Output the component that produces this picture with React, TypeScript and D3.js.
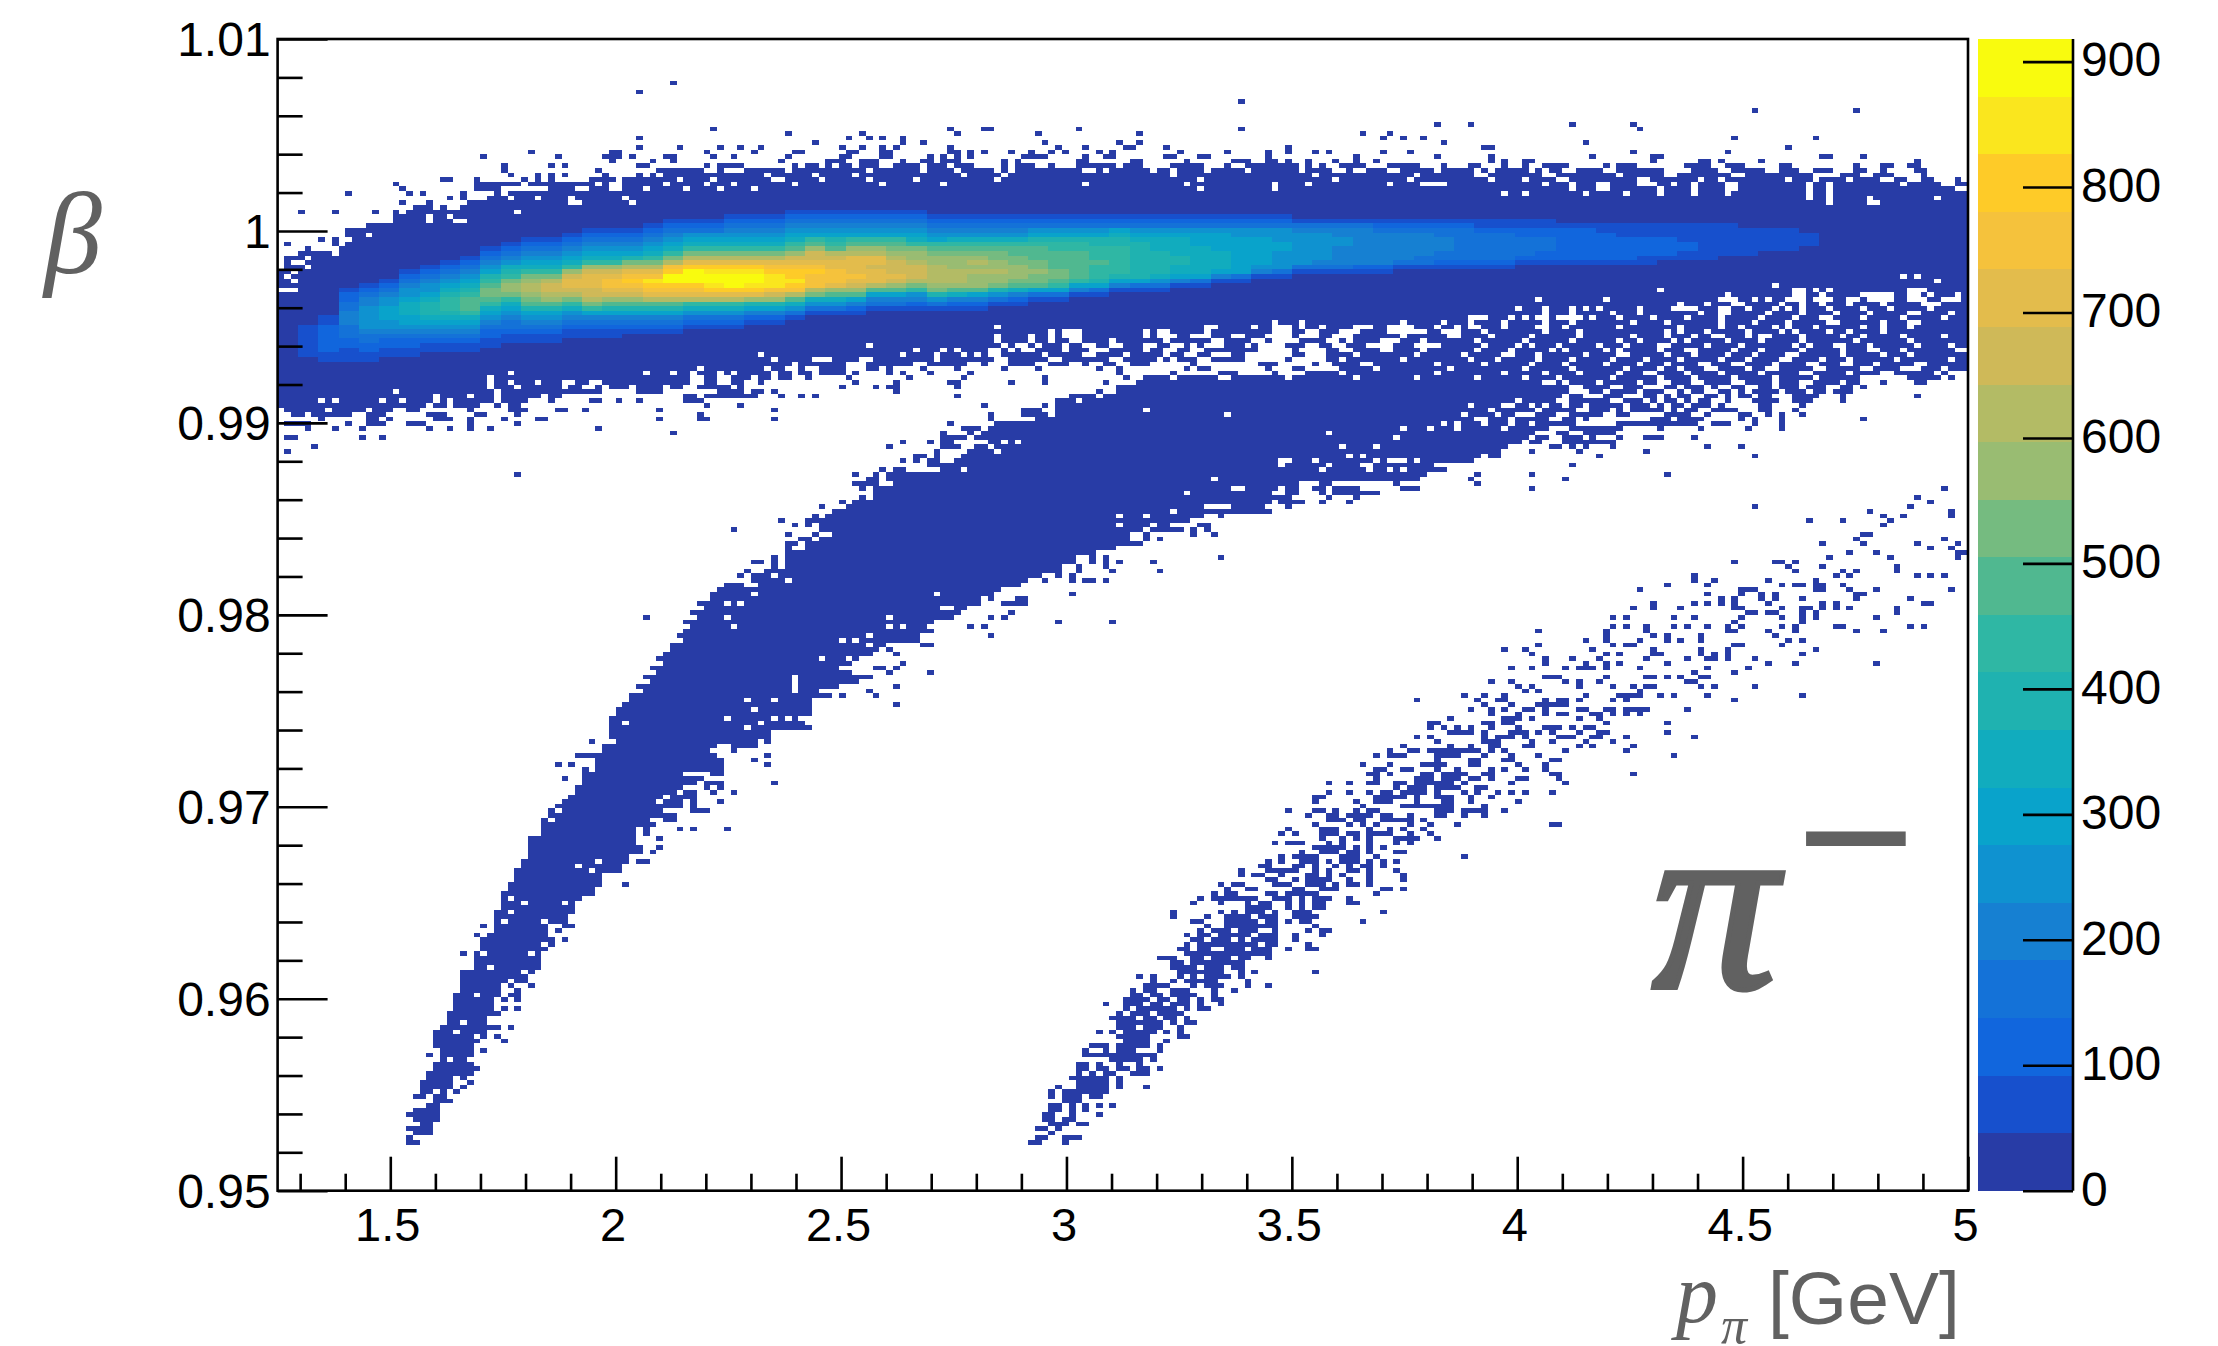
import * as d3 from 'd3'
import { useEffect, useRef } from 'react'

const xMajorTicks = [1.5, 2, 2.5, 3, 3.5, 4, 4.5, 5]
const xTickLabels = ['1.5', '2', '2.5', '3', '3.5', '4', '4.5', '5']
const yMajorTicks = [0.95, 0.96, 0.97, 0.98, 0.99, 1, 1.01]
const yTickLabels = ['0.95', '0.96', '0.97', '0.98', '0.99', '1', '1.01']
const zTicks = [0, 100, 200, 300, 400, 500, 600, 700, 800, 900]

// palette, bottom to top
const levelColors = [
  '#283ca6', '#1750cd', '#1166dd', '#1472d8', '#1680d2', '#0f92d0', '#09a3cb',
  '#11acbe', '#1fb2b0', '#2fb7a4', '#50b890', '#75bb80', '#99bc72', '#b3bb65',
  '#cfb958', '#e3bc4c', '#f5c23c', '#fecb28', '#fae61e', '#f9fb0e',
]
const zMax = 918
const binCount = 250

// occupied bins, "row: columns"
const topBandRows = [
  '240: 58', '238: 53', '236: 142', '234: 218 233', '231: 171 176 191 200',
  '230: 64 99 104-105 118 142 201',
  '229: 75 86 100 112 127 160 164',
  '228: 53 84 87 89 92 163 166 169 215 227',
  '227: 79 92 95 113 124 127 172 193',
  '226: 53 59 65 68 71 83 86 89 91 99 115 119 125-126 131 149 178-179 223',
  '225: 37 49-50 63 70 76-77 84-85 89-90 99-100 102 104 108 111 114 116 121 123 133 140 146 149 153 155 163 167 200 214',
  '224: 30 41 48-50 52 57-58 64 67 75 83-84 89-90 96 98 100 102 110-113 119 122-123 131-132 136-137 146 159 171 179 194 203-204 228-229 234',
  '223: 49 55 58 74 81-83 86-88 92 95-96 98-100 107 109 118-119 126-127 134 141-143 146-147 149 152 156 159 162 179 181 184-185 203 210-211 213 219 242',
  '222: 33 40 42 53-54 63 65-68 76 78-79 81 83-84 86-88 91-94 96-98 100-102 107 109-111 114 118-123 125-127 132-136 140 143-150 152 154 157-160 164-168 172 176-177 181 184 187-190 196 198-200 208-211 214-216 222-223 233 237-238 241-242',
  '221: 33 47 56-62 65 69-74 76-86 88-94 96-99 101-105 107 109-118 121 123-128 130-131 133-136 138-142 144-150 152-155 158 161-163 166-170 172-176 178 180-184 186 188-189 192-195 198-204 209-212 215-219 222-224 227-229 233-234 237 242-243',
  '220: 34 38 40 42 48 53 55 57-71 73-78 80-84 86-100 102-106 108-131 133-152 154-167 169-176 179-186 189-197 199-204 207-214 217-226 231-233 236-238 243',
  '219: 24-25 29 36 38 40 46-49 51-58 60-63 65-72 75-79 81-86 88-93 95-105 107-135 137-155 157-166 168-178 180-183 185-188 191-200 203-209 211-212 214-222 224-226 228-231 233-236 239-240 243-244 248',
  '218: 17 29-35 37-46 48 51-56 58-62 64-66 68-75 77-88 90-97 99-118 120-133 135-146 148-151 153-163 165-168 173-186 188-190 192-194 197-200 204-205 207-208 210-213 216-225 227-228 230-239 241-245 248-249',
  '217: 18 29-32 40-43 46-48 51-53 55-59 61-64 66-69 71-135 137-146 148-190 192-194 197-203 205-208 210-213 216-225 227-228 230-247',
  '216: 10 19 21 27 32 34-38 39-46 47-180 182-183 185-192 194-198 200-203 205-208 210-213 215-225 227-228 230-249',
  '215: 25 27 31-33 35-37 39-42 44-50 52-225 227-228 230-234 236-244 246-249',
  '214: 18 22 28-42 45-51 53-228 230-234 237-249',
  '213: 20-22 24 27-249',
  '212: 3 8 14 17 19-25 26-34 36-249',
  '211: 17-21 23-24 26-249',
  '210: 17-21 23-25 28-249',
  '209: 13-249', '208: 10-249', '207: 10-12 14-249', '206: 6 8 11-249',
  '205: 1 8 10-249', '204: 4 9-249', '203: 3-7 9-249', '202: 1-3 5-249',
  '201: 1 4-249', '200: 1-3 5-249', '199: 0-1 3-249', '198: 0 2-239 241 243-249',
  '197: 0-1 3-244 246-249', '196: 0-220 222-249', '195: 3-203 205-223 226 228 230-240 244-249',
  '194: 0-213 215-223 226-227 229-233 239-240 243 245-247 249',
  '193: 0-185 187-195 197-212 216-217 219 221-222 226 230-231 234 239-240 244-245 249',
  '192: 0-206 208-210 212-214 217-221 223-224 226-227 229-231 233-236 238-242 246-249',
  '191: 0-182 184-186 188-190 192 194 196-200 202-205 210-212 215-216 218-220 222 224 226-228 230-233 235-237 239-243 245-249',
  '190: 0-186 188-190 192-196 198-200 202-209 211-212 215-219 221-224 226-229 231-234 236-240 243-246 248-249',
  '189: 0-175 179-181 183 185 188 193 195-197 199-202 204-207 209-212 214-218 220-223 225-227 230-233 235-239 241-245 247-249',
  '188: 0-146 148-150 152-165 167-171 173-175 177-180 182-186 188-190 192-199 201-204 206-212 214-217 219-222 224-228 231-236 238-240 243-249',
  '187: 0-105 107-136 139-143 145-146 150 152-153 155-158 162-163 168-170 172-173 175 178-180 182-185 188-189 191-197 199-206 208-212 214-215 217-220 222 224-226 228-233 235-236 238-240 242-249',
  '186: 0-113 115 119-127 129 132-136 138-146 150-151 154-156 160-163 170-171 175-177 179-186 188-191 193-204 206 208-210 212-216 218-221 223 225-228 230-231 233-236 238-249',
  '185: 0-105 107-110 112-113 115 119-127 129 133-134 138-140 143-145 150 154-155 159-165 167-172 175-178 180-184 186-191 193-199 201-204 206-208 210-211 214-216 218 221-224 226-230 232-233 235-239 241-245 247-249',
  '184: 0-105 107-110 112-113 115-116 119-122 124-130 132-137 140-143 146 151-154 157 159-162 166-168 170-176 178-183 185-190 192-197 199-200 202-205 207 209-213 215-218 220-224 226-232 234-240 242-249',
  '183: 0-86 88-106 108 111 113-115 117-118 121-122 125-127 130-131 134 136 140-142 144 149-151 154-155 158-160 165-167 172-177 179-182 184 186-188 190-194 196-198 200-203 206-210 212-215 217-223 225 227-229 232-234 236-241 243-246 248-249',
  '182: 0-93 95-97 99 101-104 107 109 112-115 117-119 123-127 129-130 133-134 137-144 150 155-156 159-162 165-168 170-176 178-181 183-187 189 191-195 197 199-203 205-207 210-214 216-218 220-224 226-230 232-234 237-239 241-247',
  '181: 0-70 72-91 93-96 98-100 102 104 107-112 114-118 121-124 126-130 132-133 136-137 141-142 150-151 155-158 160-167 169-174 176-180 183-185 187-192 194-197 200-204 206-208 210-213 215-217 219-222 225-230 232-236 238-240 242-249',
  '180: 0-72 74-78 82-85 88-96 98-105 108-113 116-122 125-129 131 133-135 138-142 149 155-156 158-165 167-175 177-179 181-185 187-190 192-196 198-201 203-206 208-212 214-216 218-221 224-227 229-231 233-238 240-246 248-249',
  '179: 0-75 77-83 87-93 96-101 104 108-111 114-116 119 122-123 126-128 135 145-147 153 156-159 162-170 172-177 179-184 186-189 191-195 197-200 202-204 206-209 212-214 217-220 222-225 228-230 233-235 237-241 244-249',
  '178: 0-61 63-71 73-74 77 80-83 87-88 90 95 100 107 112 121 124 134 136-137 146 150-151 157-161 163-172 174-183 185-190 192-198 200-203 205-206 208-210 213-216 218-219 222-226 229-233 236-239 243-245 247-249',
  '177: 0-33 35-53 55-57 59-60 62-64 66 68-72 74-75 77-78 80-83 85 90 92 96 102 124 132 139-141 147 152-156 158-170 172-180 182-186 188-191 193-197 199-201 204-207 209-212 214-218 220-224 227-231 233-236 239-244 246',
  '176: 0-30 32-60 63-64 67-69 71-72 74-75 78 84 93 101 113 125 128-131 133-138 141-148 150-158 160-167 169-176 178-183 185-188 190-196 198-203 205-208 210-214 216-220 222-226 228-233 241-245 247',
  '175: 0-30 32-33 35-37 39-41 44-45 48-60 63-64 67-68 71 85 91 99-100 108 113 122',
  '174: 0-30 32-34 36-41 43-44 47 49-51 53-56 58-59 62-66 68 83 88 90-91 100',
  '173: 0-16 18-31 33-47 53-56 65-68 70-71 73 91',
  '172: 0-22 24-27 29-31 33-38 40-41 60-61 63-70 74 77 79 100',
  '171: 0-5 7 9-14 16-17 19-22 24 26-31 33-36 40 46-47 50 53 60-62',
  '170: 0-21 23-24 26-29 32 34-35 63 68 104',
  '169: 1-6 8-12 14-16 19-20 28 34-36 41-42 45 56 73',
  '168: 2-3 5-10 13-15 22-24 29-30 35 62',
  '167: 6 13-14 16 23-25 28 33 38-39 56 62-63 73',
  '166: 1-4 10 13-15 19-21 28 35',
  '165: 4 8 12 22 25 28 31 47',
  '164: 58', '163: 1-2 12 15', '161: 5', '160: 1', '155: 35',
]

const kaonRows = [
  '10: 19-20', '11: 19', '12: 20-22', '13: 19-22', '14: 21-22', '15: 20-23', '16: 19-23',
  '17: 20-23', '18: 22-23', '19: 23-25', '20: 20-21 23-24', '21: 21-22 24 26',
  '22: 21-25 27', '23: 21-25 28', '24: 22-25 27', '25: 22-28', '26: 23-29', '27: 23-28',
  '28: 24 26-27', '29: 22 24-28', '30: 24-28 30', '31: 23-28', '32: 23-29 33', '33: 23-30 32',
  '34: 23-25 27-30', '35: 24-32 34', '36: 25-26 28-30', '37: 25-30', '38: 25-32',
  '39: 26-31 33 35', '40: 26-31', '41: 26-33 35', '42: 26-32 34-35', '43: 27-32 35',
  '44: 27-32 34 37', '45: 27-33 35-36', '46: 27-36', '47: 27-37', '48: 29-38', '49: 29-38',
  '50: 29-38', '51: 27 29-38', '52: 30-39', '53: 30-40', '54: 30-40 42', '55: 29 31-39',
  '56: 32-39 41', '57: 30 32-39 42-43', '58: 32-42', '59: 32-42', '60: 32-43', '61: 33-43',
  '62: 33-43', '63: 33-44', '64: 33-46', '65: 34-46', '66: 34-47 51', '67: 35-47', '68: 35-47',
  '69: 35-50', '70: 36-50', '71: 36-51 53-54', '72: 37-51', '73: 37-53 55', '74: 37-53 56',
  '75: 37-52', '76: 37-52 56', '77: 39-52 54', '78: 39-52 54 59 61 66', '79: 39-55', '80: 39-54 57-58',
  '81: 40-58', '82: 40-56 61-63', '83: 41-56 57-59 61', '84: 42-55 57-59 61 65', '85: 43-56 58-61', '86: 44-58 60-61 64 67',
  '87: 44-59 63 65', '88: 45-61 63-64 65 73', '89: 42 45-62', '90: 45-59 64-65', '91: 45 47-65', '92: 41 43 47-65 72', '93: 47-65 70',
  '94: 44-64 72', '95: 48-63 67', '96: 48-64 67-70', '97: 46 50-70 72', '98: 49-72', '99: 49-72',
  '100: 49-68 70-78', '101: 49-77', '102: 49-76', '103: 50-78', '104: 50-78', '105: 51-78 91',
  '106: 52-78', '107: 52-81 83 88', '108: 54-79 87', '109: 53-82 91', '110: 55-85', '111: 54-87',
  '112: 56-84 90 96', '113: 55-82 88-89 91', '114: 57-84 92', '115: 56-85', '116: 57-87 91',
  '117: 58-88 90', '118: 58-89 95-96', '119: 60-94', '120: 59-94 105', '121: 60-96',
  '122: 61-95 102 104', '123: 60-96 115 123', '124: 54 62-99 105 107', '125: 61-100 108',
  '126: 63-97 100-101', '127: 62-103 107-110', '128: 64-103 105 109-110', '129: 64-105 117',
  '130: 65-106', '131: 66-68 71-109', '132: 70-74 76-110 113 117 119-120 122',
  '133: 68 70-72 74-112 115 117', '134: 69 72-115 118 123 130', '135: 73 75-115 118 122',
  '136: 70-71 73 75-117 120 122 124 129', '137: 73 75-117 120 122 139', '138: 75-120',
  '139: 75 78-123', '140: 75-76 78-127', '141: 77-78 80-125 128 130', '142: 75 79 82-125 128 135 138',
  '143: 67 80-133 135 137', '144: 76 78 80-131 136-137', '145: 74 78-134', '146: 79 81-136 139',
  '147: 82-146', '148: 80 84-136 141-145 149', '149: 83 85-146 148-151 154 158', '150: 86 88-149 155 159',
  '151: 88-146 149-150 154 156-162', '152: 86 88-140 143-147 149-150 153-154 156-159 166-168',
  '153: 85-88 91-150 154-155 165 177', '154: 87-88 90-168 176 190', '155: 85 88 90-169 177 185 205',
  '156: 89 91-92 98-172', '157: 96-170 191', '158: 92 94 96-97 100-176',
  '159: 94-95 97 100-177 179-180 195 218', '160: 97 102-180 185 192 202',
  '161: 90 98-100 103-181 188-189 191 193 197 211 216', '162: 92 96 98-99 105-183 185-186 190-197',
  '163: 98-101 103-184 186-187 190-192 194 198 202-204 209', '164: 98 102 104-185 189-190 193-197',
  '165: 101-103 105-187 191-198 204 210 217 222', '166: 99 106-191 198-209 212-214 218 222',
  '167: 105 112-193 203-205 207-210 216 218 222 234', '168: 105 110-113 115-199 205-208 211 216-217 220 222 225',
  '169: 110-112 115-198 200-206 208-215 219-220 224', '170: 104 113 115-204 206-213 219-220 225',
  '171: 115-117 119-203 205-208 210-214 218-221 224-226 231', '172: 117-120 122-205 207-214 216-220 224-227 231 242',
  '173: 121 124-207 209-216 218-221 223-228 230-232', '174: 124-210 212-224 226-232 234',
  '175: 127-220 222-230 232-233 237 242-243',
]

// white specks inside the dense bands, "row: columns"
const kaonGaps = [
  '21: 23', '28: 25', '33: 29', '36: 27', '39: 32', '41: 32', '42: 29', '47: 36', '48: 31', '51: 30 37',
  '53: 39', '58: 33 39', '60: 34', '62: 36 42', '63: 34', '69: 46', '70: 44', '71: 47', '80: 40', '82: 41',
  '101: 51 71', '102: 66 73 75', '104: 70', '106: 69 73', '108: 76', '109: 76', '110: 76', '111: 76',
  '115: 80 84', '118: 87', '119: 83 85', '120: 87', '122: 67 90 92', '124: 66 90', '127: 66 68',
  '129: 70 97', '143: 128', '144: 124 129', '146: 124 128', '147: 132', '151: 134', '154: 138',
  '156: 101 154 161 164 166', '157: 148 155 160-161', '158: 148-149 153 162 164-166 168',
  '159: 100 158 160', '160: 106', '161: 105 157 162', '162: 107 109', '163: 165', '164: 155',
  '165: 166 170 174 181', '166: 172 174 178 182 185', '167: 177-178 182 188-189 192',
  '168: 140 175 180 183-185 189-190 196-197', '169: 128 179 186 192-193 197 205 210-211',
  '170: 176 181-182 185 187 190 193 199 203 208 212', '171: 183 189-190 197-198 202 207 212-213 216',
  '172: 190 193-195 199-201 204 209-210 213 218', '173: 191-193 196 201 205-206 211-212 215 222 226',
  '174: 191-192 197-198 202-204 207 213-214 217-218 221 229-230',
  '175: 187-188 190 195 201 204-205 209-210 215-216 225-226',
]

const protonRows = [
  '10: 111-112 116', '11: 112-113 116-118', '12: 114', '13: 112-113 115', '14: 114-116 118-119',
  '15: 113-114 116-117', '16: 113-114 117 121', '17: 114-115 117 119', '18: 114-117 119 121 123',
  '19: 116-118', '20: 114 116-118 120-121', '21: 114 116-122', '22: 115 118-122 124 128',
  '23: 118-122 124', '24: 117-122 124', '25: 118-123 126-128', '26: 118-119 121-122 124-125 127-128 130',
  '27: 118-119 121 124 127', '28: 123-127 129', '29: 119-127 128-129', '30: 119-120 122-126 130',
  '31: 120-122 124-128 130', '32: 125-128 131', '33: 124-128 133-134', '34: 121 123 125-129 131 133',
  '35: 124-130 133', '36: 124-130 132 134-135', '37: 123-129 131-132 134', '38: 124-133', '39: 125-134 136-137',
  '40: 122 125-134 136 139', '41: 125-134 136 138-139', '42: 126-136 138', '43: 126 128-129 131-134 138 141',
  '44: 128-132 134-135 137-139 143 146', '45: 129 132-137 138 143', '46: 127 129 133-137 138-140 142',
  '47: 133-138 139 142 144 153', '48: 132-142', '49: 132-133 135-142', '50: 130-132 135-143 146',
  '51: 134-146', '52: 133-134 136-146 149 152-153', '53: 134-147 152', '54: 135-147 150',
  '55: 134 136-147 150 154', '56: 136-147 152 154-155', '57: 137 140-147 153', '58: 135-136 140-149 151-152 160',
  '59: 132 137 140-147 150-153', '60: 132 139 141 143-145 147 150-152 163', '61: 143-146 149 151-154',
  '62: 135 139 143 145-146 149 151 153-154 158-159', '63: 136 138-144 147-155 158',
  '64: 138 140-141 146-147 149-153 162', '65: 140 143-144 150-151 154-156 163-164 166',
  '66: 139 141-142 147-149 152-159 161', '67: 146-147 150 152-155 158 161 166',
  '68: 142 144-145 148 152-153 155-157 161 166', '69: 142 146-150 153-155 158-159 161 165',
  '70: 145-146 150-151 153 156 158 160-161 163', '71: 146 148 151-153 155 157-159 161 163 165',
  '72: 148 150-153 157-159 162 175', '73: 151 154-161 165-166', '74: 153-157 159 161 163',
  '75: 147 149-151 155 157 161 165 167', '76: 154 157 159 161 165-168 171',
  '77: 148 150 154-156 158-159 161-164 167 170', '78: 149 154-156 161 164 166 169',
  '79: 153 158 160 162 167 170 174 188-189', '80: 155-157 159-160 163-167 169',
  '81: 152 155-156 158-161 163-164 167 171-172 175 178', '82: 149 153-154 156 159 161-162 171-173 175-178 181',
  '83: 160 166-173 178', '84: 153 159 162-164 168 172-173 176 183', '85: 153-154 162-166 168 171-173 176 179',
  '86: 155 158 161 163-164 166-169 171 175 177 180 182 184 188', '87: 165 167-169 171 172-174 177-178',
  '88: 155 158 161-162 165-166 168-170 171-173 175 182 190', '89: 162 168-170 172-174 176-177 179 183-184 189',
  '90: 161-162 164 169-170 172-175 178-179 188-189 200', '91: 162-163 166-167 171 174 179 181 184 187',
  '92: 160 164 169-172 176-177 183 187', '93: 171 176-177 181-182 188-189',
  '94: 162 164-166 171-174 178 182 186 206', '95: 164 167-168 170-177 179 181 190 199',
  '96: 166 173 176 179-180 184-185 192 194 200', '97: 171 178-180 185 188 193 197',
  '98: 168 170 178 180-182 184 189-191 194-195 199 209', '99: 173-176 178 182-184 186 188 192 195-196 205',
  '100: 170 172 174 176 179 183 187-189 191 193-194', '101: 170-171 178-179 181-182 196 205',
  '102: 173 181-183 185 192 195', '103: 179 183 187 189-190 194-195 197 199 201',
  '104: 176 179 181 184-185 187 192-193 196-197 199-202 208', '105: 178 182 186-190',
  '106: 168 177 180-181 187 189-190 192 197 199 215', '107: 175 178 181 193 198-201 204 206 211 225',
  '108: 184 186 201', '109: 183 185 192 197 200 202-203 210 212 218', '110: 179 182 190 192 195 208-209',
  '111: 187-189 196 202-203 205 207 210-211', '112: 209 215', '113: 182 185 190 192-194 196 201 211 217',
  '114: 187 193 196 198 205 220 224 236', '115: 187 191 195 202 208 211-212 214 218',
  '116: 185 196 198 203-204 210 212 214 225', '117: 181 184 194 203 210 214 227', '118: 186 197 199-200 215-216 222',
  '119: 193 196 201 205 207 210 223 225', '120: 196 203 205 210 221', '121: 186 196 202 214-215 220 224 233 237',
  '122: 197 199 202 206 208 211 214 216 222 224 230-231 241 243', '123: 215 225',
  '124: 197 199 206 209 216 222 225 227 236', '125: 217-218 220-221 225 227 239',
  '126: 200 203 207 215-216 222 225-226 228 230 232 239', '127: 203 209 211 213 215 220 228 230 243-244',
  '128: 213 215 219 221 225 233 241', '129: 211 216 219 221 233-234', '130: 201 216-218 227-228 232 236 247',
  '131: 205 211 222 224-225 227-228 231', '132: 209 212 220 227', '133: 209 230 232 242 244 246',
  '134: 224 231 233 239', '135: 223 228 239', '136: 215 221-222 224', '137: 229 238 248', '138: 232 236 248-249',
  '139: 244 247', '140: 228 234 242 248', '141: 233 246', '142: 234-235', '144: 237', '145: 226 231 238',
  '146: 237 240 247', '147: 235 247', '148: 218 241', '149: 244', '150: 242', '152: 185 246',
]

const protonGaps = [
  '13: 114', '16: 115', '18: 116', '20: 119', '25: 119 121', '30: 120 123', '35: 127', '37: 127 130',
  '38: 125 129', '39: 126 133', '40: 131 128', '41: 132 129', '42: 128 131 136', '43: 131', '44: 132 134',
  '45: 133', '46: 136 134', '48: 136 140', '50: 137 141', '52: 138-139 143', '53: 135 145', '54: 137 141 143',
  '55: 138 144', '56: 137 141 145-146', '58: 145 148', '59: 144', '61: 152', '63: 150 152', '66: 155 157',
  '68: 156', '69: 154', '71: 156', '72: 155', '73: 157 160',
]

// colour levels of the dense ridge, "first column:first row:levels going up", each entry 3 columns wide
const coreProfiles = [
  '3:181:1111111', '6:180:1122222211', '9:180:1112233344433221', '12:180:11223345555544321',
  '15:181:11223455666554321', '18:181:1122345667776554321', '21:182:1123456788876554321',
  '24:182:11234567899987654321', '27:182:112345679aaa987654321', '30:183:1122345679abba98654321',
  '33:184:1123345679bccb98754321', '36:184:11234568abcddcb97654321', '39:184:11234568acdeedb97654321',
  '42:185:11234579bdeffec97654321', '45:185:1123469bdeefffec97654321', '48:185:1123468acefggfec97654321',
  '51:186:123468acefghgfdb8654321', '54:186:123468adfghigfdb97654321', '57:186:123468adfghjjhgdb97654321',
  '60:187:123579dfghjjjhfdb9765321', '63:187:123579dfhijjihfdb9765321', '66:187:123579dfhjjjihfdb97654321',
  '69:188:12468cfhijjihfdb97654321', '72:188:12468cegiiihgfdb97654321', '75:189:1357adghihhgfeca97654321',
  '78:190:1357bdggghgfeeca9654321', '81:190:1357acfgggffeda98654321', '84:190:1246acefgffffdca9654321',
  '87:191:1346adfffeffdca9654321', '90:191:1346acefeeedcba9654321', '93:191:12459bdeeedccb97654321',
  '96:191:1358bcddddccba9654321', '99:191:1247acdddcccba9754321', '102:191:1246acccdcdcba9754321',
  '105:192:1358bccdccbba9754321', '108:192:1247abcccbbaa9754321', '111:193:136abbcbbaaa9865321',
  '114:193:1369abbaaaa99865321', '117:194:1469aaaaaa99865321', '120:194:1368999a9998865321',
  '123:195:14689999998876321', '126:195:13688888888765321', '129:195:13578888877765321',
  '132:196:1467788777765321', '135:196:1367777776665321', '138:197:146777766665321',
  '141:197:136666666655321', '144:198:14566666655321', '147:198:13555566555321',
  '150:199:135555555431', '153:199:134555555431', '156:199:134444554431', '159:199:124444444431',
  '162:199:124444444321', '165:200:13444444321', '168:200:13344444321', '171:200:12334443321',
  '174:200:12333333321', '177:200:12333333211', '180:200:12333333211', '183:201:1233332211',
  '186:201:1223332211', '189:201:122222221', '192:201:122222221', '195:201:122222211',
  '198:201:122222111', '201:201:112222111', '204:202:12222111', '207:202:11221111',
  '210:202:11111111', '213:203:1111111', '216:203:111111', '219:204:11111', '222:204:11111',
  '225:205:111',
]

const W = 2218
const H = 1346
const plot = { left: 277.6, right: 1968, top: 39, bottom: 1190.7 }
const barX = { left: 1978, right: 2073 }
const labelFont = '"Liberation Sans", Arial, sans-serif'
const serifFont = '"Liberation Serif", "Times New Roman", serif'
const grey = '#616161'

// calls fn(row, col) for every bin named in a "row: columns" list
const eachBin = (rows: string[], fn: (row: number, col: number) => void) => {
  rows.forEach((line) => {
    const [r, spec] = line.split(':')
    spec.trim().split(/\s+/).forEach((tok) => {
      const [a, b] = tok.split('-').map(Number)
      for (let c = a; c <= (b === undefined ? a : b); c++) fn(+r, c)
    })
  })
}

// row -> (column -> level)
const buildGrid = () => {
  const grid = new Map<number, Map<number, number>>()
  const add = (row: number, col: number) => {
    if (!grid.has(row)) grid.set(row, new Map())
    grid.get(row)!.set(col, 0)
  }
  const remove = (row: number, col: number) => {
    grid.get(row)?.delete(col)
  }
  eachBin(topBandRows, add)
  eachBin(kaonRows, add)
  eachBin(protonRows, add)
  eachBin(kaonGaps, remove)
  eachBin(protonGaps, remove)
  coreProfiles.forEach((p) => {
    const [c, r, levels] = p.split(':')
    levels.split('').forEach((ch, i) => {
      const cells = grid.get(+r + i)
      if (!cells) return
      for (let k = 0; k < 3; k++) {
        if (cells.has(+c + k)) cells.set(+c + k, parseInt(ch, 20))
      }
    })
  })
  return grid
}

const App = () => {
  const axes = useRef<SVGGElement>(null)

  const xBin = d3.scaleLinear().domain([0, binCount]).range([plot.left, plot.right])
  const yBin = d3.scaleLinear().domain([0, binCount]).range([plot.bottom, plot.top])
  const zScale = d3.scaleLinear().domain([0, zMax]).range([plot.bottom, plot.top])

  // one path per colour level, runs merged along the row
  const paths: string[] = levelColors.map(() => '')
  buildGrid().forEach((cells, row) => {
    const cols = [...cells.keys()].sort(d3.ascending)
    let i = 0
    while (i < cols.length) {
      let j = i
      const level = cells.get(cols[i])!
      while (j + 1 < cols.length && cols[j + 1] === cols[j] + 1 && cells.get(cols[j + 1]) === level) j++
      const x0 = xBin(cols[i])
      const x1 = xBin(cols[j] + 1)
      const y1 = yBin(row)
      const y0 = yBin(row + 1)
      paths[level] += `M${x0.toFixed(1)} ${y0.toFixed(1)}H${x1.toFixed(1)}V${y1.toFixed(1)}H${x0.toFixed(1)}Z`
      i = j + 1
    }
  })

  useEffect(() => {
    const g = d3.select(axes.current)
    g.selectAll('*').remove()

    const x = d3.scaleLinear().domain([1.25, 5]).range([plot.left, plot.right])
    const y = d3.scaleLinear().domain([0.95, 1.01]).range([plot.bottom, plot.top])

    const style = (sel: any, size: number) => {
      sel.select('.domain').remove()
      sel.selectAll('line').attr('stroke', '#000').attr('stroke-width', 2.6)
      sel.selectAll('text').attr('fill', '#000').attr('font-family', labelFont).attr('font-size', size)
    }

    const xMinor = d3.range(1.3, 5, 0.1).filter((v) => Math.abs(v * 2 - Math.round(v * 2)) > 0.01)
    g.append('g')
      .attr('transform', `translate(0,${plot.bottom})`)
      .call(d3.axisBottom(x).tickValues(xMinor).tickSize(-17).tickFormat(() => ''))
      .call(style, 47)
    g.append('g')
      .attr('transform', `translate(0,${plot.bottom})`)
      .call(
        d3.axisBottom(x).tickValues(xMajorTicks).tickSize(-34).tickPadding(10)
          .tickFormat((_, i) => xTickLabels[i]),
      )
      .call(style, 47)
      .selectAll('text')
      .attr('dx', -3)
      .attr('dy', '0.85em')

    const yMinor = d3.range(0.952, 1.01, 0.002).filter((v) => Math.abs(v * 100 - Math.round(v * 100)) > 0.01)
    g.append('g')
      .attr('transform', `translate(${plot.left},0)`)
      .call(d3.axisLeft(y).tickValues(yMinor).tickSize(-25).tickFormat(() => ''))
      .call(style, 48)
    g.append('g')
      .attr('transform', `translate(${plot.left},0)`)
      .call(
        d3.axisLeft(y).tickValues(yMajorTicks).tickSize(-50).tickPadding(7)
          .tickFormat((_, i) => yTickLabels[i]),
      )
      .call(style, 48)
      .selectAll('text')
      .attr('dy', '0.35em')

    g.append('g')
      .attr('transform', `translate(${barX.right},0)`)
      .call(d3.axisRight(zScale).tickValues(zTicks).tickSize(-50).tickPadding(8))
      .call(style, 48)
      .selectAll('text')
      .attr('dy', '0.3em')
  }, [])

  return (
    <svg
      width={W}
      height={H}
      viewBox={`0 0 ${W} ${H}`}
      style={{ position: 'absolute', left: 0, top: 0, background: '#fff', display: 'block' }}
    >
      {paths.map((d, i) => (
        <path key={i} d={d} fill={levelColors[i]} shapeRendering="crispEdges" />
      ))}

      {levelColors.map((c, i) => (
        <rect
          key={c}
          x={barX.left}
          width={barX.right - barX.left}
          y={zScale(((i + 1) * zMax) / levelColors.length)}
          height={zScale((i * zMax) / levelColors.length) - zScale(((i + 1) * zMax) / levelColors.length)}
          fill={c}
          shapeRendering="crispEdges"
        />
      ))}
      <line x1={barX.right} x2={barX.right} y1={plot.top} y2={plot.bottom} stroke="#000" strokeWidth={2.6} />

      <rect
        x={plot.left}
        y={plot.top}
        width={plot.right - plot.left}
        height={plot.bottom - plot.top}
        fill="none"
        stroke="#000"
        strokeWidth={2.6}
      />
      <g ref={axes} />

      <text x={44} y={273} fontFamily={serifFont} fontStyle="italic" fontSize={116} fill={grey}>β</text>

      <text x={1652} y={988} fontFamily={serifFont} fontStyle="italic" fontSize={250} fill={grey} stroke={grey} strokeWidth={5}>π</text>
      <text x={1796} y={907} fontFamily={labelFont} fontSize={205} fill={grey}>−</text>

      <text x={1676} y={1322} fontFamily={serifFont} fontStyle="italic" fontSize={84} fill={grey}>p</text>
      <text x={1721} y={1343} fontFamily={serifFont} fontStyle="italic" fontSize={52} fill={grey}>π</text>
      <text x={1768} y={1324} fontFamily={labelFont} fontSize={75} fill={grey}>[GeV]</text>
    </svg>
  )
}

export default App
